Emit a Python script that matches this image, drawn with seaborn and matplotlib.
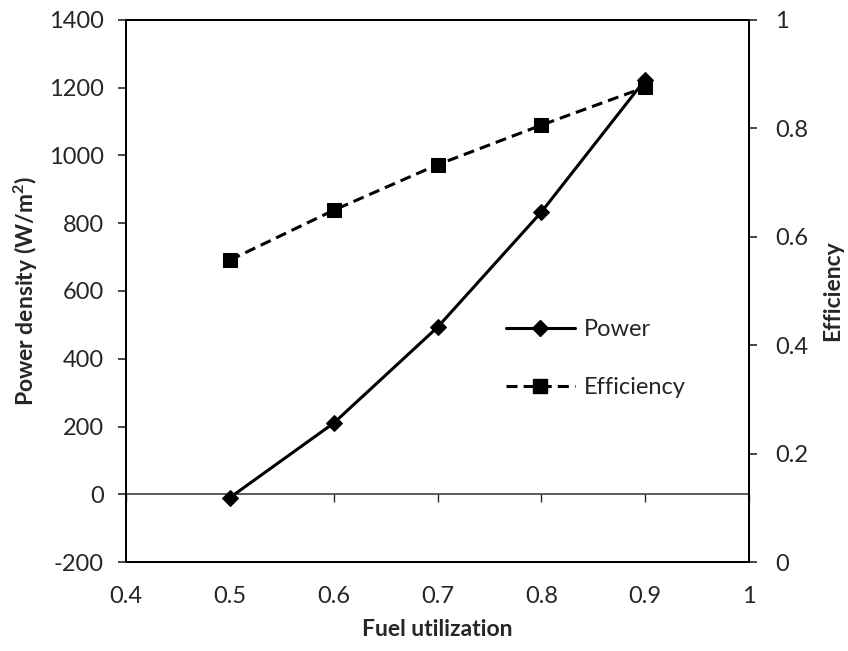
import matplotlib
matplotlib.use("Agg")
import matplotlib.pyplot as plt
import seaborn as sns
import pandas as pd
from matplotlib.lines import Line2D

# Fuel utilization sweep
fuel_utilization = [0.5, 0.6, 0.7, 0.8, 0.9]
power_density = [-10, 210, 493, 833, 1224]      # W/m^2
efficiency = [0.557, 0.649, 0.733, 0.806, 0.876]

x_ticks = [0.4, 0.5, 0.6, 0.7, 0.8, 0.9, 1.0]
x_tick_labels = ["0.4", "0.5", "0.6", "0.7", "0.8", "0.9", "1"]
left_ticks = [-200, 0, 200, 400, 600, 800, 1000, 1200, 1400]
right_ticks = [0, 0.2, 0.4, 0.6, 0.8, 1.0]
right_tick_labels = ["0", "0.2", "0.4", "0.6", "0.8", "1"]

df = pd.DataFrame({"util": fuel_utilization, "power": power_density, "eff": efficiency})

sns.set_style("white")
plt.rcParams["font.family"] = ["Lato", "DejaVu Sans"]
plt.rcParams["mathtext.default"] = "regular"
plt.rcParams["axes.unicode_minus"] = False

LW = 2.2
DASH = (0, (3.6, 2.0))
TICK_FS = 17
LABEL_FS = 16.5

fig = plt.figure(figsize=(8.48, 6.51), dpi=100)
ax = fig.add_axes([0.1486, 0.1367, 0.7347, 0.8326])
ax2 = ax.twinx()

sns.lineplot(data=df, x="util", y="power", ax=ax, color="black", lw=LW,
             marker="D", markersize=8, markeredgecolor="black")
sns.lineplot(data=df, x="util", y="eff", ax=ax2, color="black", lw=LW,
             linestyle=DASH, marker="s", markersize=9.5, markeredgecolor="black")

ax.set_xlim(0.4, 1.0)
ax.set_ylim(-200, 1400)
ax2.set_ylim(0, 1)

ax.set_xticks(x_ticks)
ax.set_xticklabels(x_tick_labels)
ax.set_yticks(left_ticks)
ax2.set_yticks(right_ticks)
ax2.set_yticklabels(right_tick_labels)

ax.tick_params(axis="y", direction="out", length=6, width=1.2, labelsize=TICK_FS, pad=10, left=True)
ax.tick_params(axis="x", length=0, labelsize=TICK_FS, pad=17)
ax2.tick_params(axis="y", direction="out", length=6, width=1.2, labelsize=TICK_FS, pad=13, right=True)

# horizontal axis line crossing at zero, with its tick marks
zero_frac = (0 - (-200)) / 1600
sec = ax.secondary_xaxis(zero_frac)
sec.set_xticks(x_ticks)
sec.tick_params(axis="x", direction="out", length=6, width=1.0, labelbottom=False, labeltop=False,
                bottom=True, top=False)
sec.spines["bottom"].set_linewidth(1.1)
sec.spines["bottom"].set_color("#303030")

for a in (ax, ax2):
    for side in ("left", "right", "bottom", "top"):
        a.spines[side].set_color("black")
        a.spines[side].set_linewidth(1.4)
ax.grid(False)
ax2.grid(False)

ax.set_xlabel("Fuel utilization", fontsize=LABEL_FS, fontweight="bold", labelpad=9)
ax.set_ylabel("Power density (W/m$^2$)", fontsize=LABEL_FS, fontweight="bold", labelpad=6)
ax2.set_ylabel("Efficiency", fontsize=LABEL_FS, fontweight="bold", labelpad=10)

handles = [
    Line2D([], [], color="black", lw=LW, marker="D", markersize=8),
    Line2D([], [], color="black", lw=LW, linestyle=DASH, marker="s", markersize=9.5),
]
for a in (ax, ax2):
    if a.get_legend() is not None:
        a.get_legend().remove()
ax2.legend(handles, ["Power", "Efficiency"], loc="center left", bbox_to_anchor=(0.61, 0.375),
           frameon=False, fontsize=TICK_FS, handlelength=2.9, handletextpad=0.4,
           labelspacing=1.55, borderaxespad=0, borderpad=0)

fig.savefig("out.png", dpi=100)
